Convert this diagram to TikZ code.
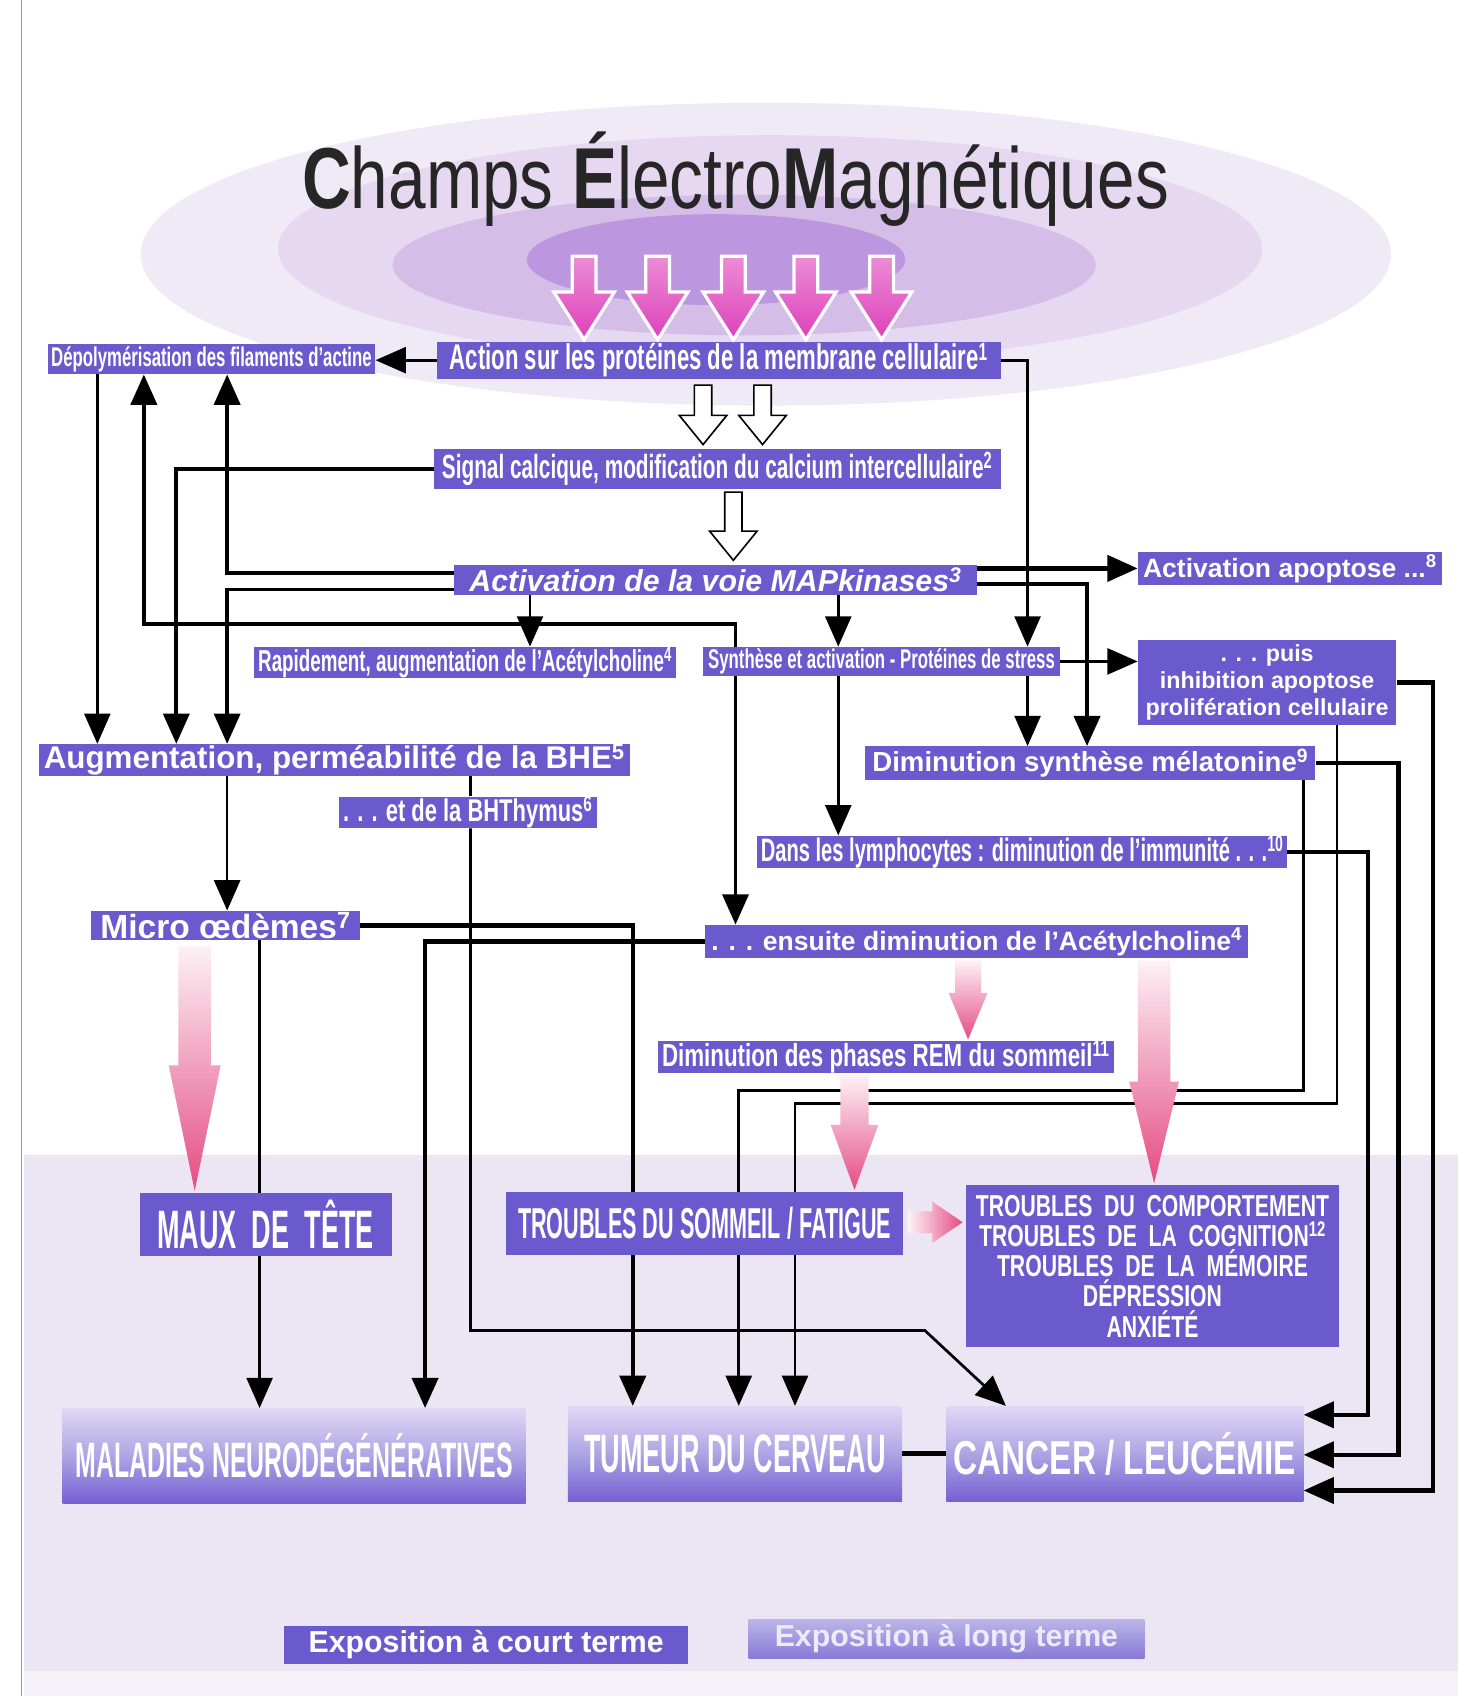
\documentclass[tikz,border=0pt]{standalone}
\usepackage{fontspec}
\setmainfont{Liberation Sans}
\newfontfamily\nar[FakeStretch=0.62]{Liberation Sans}
\newfontfamily\mnar[FakeStretch=0.7]{Liberation Sans}
\newfontfamily\nnar[FakeStretch=0.5]{Liberation Sans}
\newfontfamily\ttlfont[FakeStretch=0.78]{Liberation Sans}
\usetikzlibrary{arrows.meta,calc}
\pgfdeclarelayer{back}
\pgfdeclarelayer{links}
\pgfsetlayers{back,links,main}

\definecolor{boxblue}{RGB}{106,90,205}
\definecolor{bandlav}{RGB}{236,229,244}
\definecolor{ella}{RGB}{240,234,246}
\definecolor{ellb}{RGB}{229,216,240}
\definecolor{ellc}{RGB}{212,190,232}
\definecolor{elld}{RGB}{188,150,222}
\definecolor{magent}{RGB}{222,64,186}
\definecolor{pinkarr}{RGB}{228,76,130}
\definecolor{gradtop}{RGB}{224,216,245}
\definecolor{gradbot}{RGB}{116,96,212}

\newcommand\fsz[2]{\fontsize{#1}{#2}\selectfont}
% pink arrow pointing down: x, top, start of head, tip, half shaft, half head
\newcommand\pinkdn[6]{\shade[top color=pinkarr!8, bottom color=pinkarr]
  (#1-#5,#2) -- (#1+#5,#2) -- (#1+#5,#3) -- (#1+#6,#3) -- (#1,#4) -- (#1-#6,#3) -- (#1-#5,#3) -- cycle;}

\tikzset{
  box/.style={fill=boxblue, text=white, inner sep=0pt},
  gbox/.style={top color=gradtop, bottom color=gradbot, middle color=boxblue!55!white, text=white, inner sep=0pt},
  lbox/.style={top color=boxblue!45!white, bottom color=boxblue!80!white, text=white!88!boxblue, inner sep=0pt},
  arr/.style={line width=2.5pt, -{Triangle[width=24pt,length=28pt]}},
  arrb/.style={line width=2.5pt, {Triangle[width=24pt,length=28pt]}-{Triangle[width=24pt,length=28pt]}},
  ln/.style={line width=2.5pt},
  thk/.style={line width=4.5pt},
  magarr/.style={top color=magent!60!white, bottom color=magent, draw=white, line width=3pt},
  hollowarr/.style={fill=white, draw=black, line width=1.5pt},
}

\begin{document}
\begin{tikzpicture}[x=1pt, y=-1pt]
	\useasboundingbox (0,0) rectangle (1348,1568);
	\begin{pgfonlayer}{back}
		\fill[white] (0,0) rectangle (1348,1568);
		\fill[bandlav] (22,1068) rectangle (1348,1545);
		\fill[bandlav!50] (22,1545) rectangle (1348,1568);
		\fill[ella] (708,235) ellipse [x radius=578, y radius=140];
		\fill[ellb] (712,230) ellipse [x radius=455, y radius=105];
		\fill[ellc] (688,245) ellipse [x radius=325, y radius=65];
		\fill[elld] (662,240) ellipse [x radius=175, y radius=42];
		\draw[gray!80, line width=1pt] (20,0) -- (20,1568);
	\end{pgfonlayer}

	% columns and rows for the links
	\foreach \c in {90,133,163,210,240,393,435,490,585,680,683,735,775,855,930,950,1005,1205,1236,1265,1293,1325}
		\coordinate (c\c) at (\c,0);
	\foreach \r in {530,540,545,577,1008,1020,1230,1308,1345,1378}
		\coordinate (r\r) at (0,\r);

	\node[font=\ttlfont\fsz{80}{80}, text=black!85, anchor=base] (title) at (680,193)
		{{\bfseries C}hamps {\bfseries É}lectro{\bfseries M}agnétiques};

	\node[box, minimum width=303, minimum height=28, font=\nar\bfseries\fsz{25}{25}] (depoly) at (195.5,332) {Dépolymérisation des filaments d’actine};
	\node[box, minimum width=521, minimum height=34, font=\nar\bfseries\fsz{33}{33}] (action) at (664.5,333) {Action sur les protéines de la membrane cellulaire\textsuperscript{1}};
	\node[box, minimum width=524, minimum height=37, font=\nar\bfseries\fsz{31}{31}] (signal) at (663,433.5) {Signal calcique, modification du calcium intercellulaire\textsuperscript{2}};
	\node[box, minimum width=483, minimum height=28, font=\bfseries\itshape\fsz{28}{28}] (mapk) at (661.5,536) {Activation de la voie MAPkinases\textsuperscript{3}};
	\node[box, minimum width=281, minimum height=31, font=\bfseries\fsz{24.5}{24.5}] (apopt) at (1192.5,525.5) {Activation apoptose ...\textsuperscript{8}};
	\node[box, minimum width=390, minimum height=29, font=\nar\bfseries\fsz{28}{28}] (rapid) at (430,612.5) {Rapidement, augmentation de l’Acétylcholine\textsuperscript{4}};
	\node[box, minimum width=330, minimum height=27, font=\nar\bfseries\fsz{25}{25}] (synth) at (815,611.5) {Synthèse et activation - Protéines de stress};
	\node[box, minimum width=239, minimum height=78, align=center, font=\bfseries\fsz{21.5}{25}] (puis) at (1171.5,631) {. . . puis\\inhibition apoptose\\prolifération cellulaire};
	\node[box, minimum width=546, minimum height=29, font=\bfseries\fsz{29}{29}] (bhe) at (309,702.5) {Augmentation, perméabilité de la BHE\textsuperscript{5}};
	\node[box, minimum width=239, minimum height=28, font=\mnar\bfseries\fsz{29}{29}] (bht) at (432.5,751) {. . . et de la BHThymus\textsuperscript{6}};
	\node[box, minimum width=416, minimum height=31, font=\bfseries\fsz{25.5}{25.5}] (melat) at (1008,705.5) {Diminution synthèse mélatonine\textsuperscript{9}};
	\node[box, minimum width=490, minimum height=27, font=\nar\bfseries\fsz{30}{30}] (lymph) at (945,787.5) {Dans les lymphocytes : diminution de l’immunité . . .\textsuperscript{10}};
	\node[box, minimum width=249, minimum height=27, font=\bfseries\fsz{31}{31}] (micro) at (208.5,855.5) {Micro œdèmes\textsuperscript{7}};
	\node[box, minimum width=502, minimum height=31, font=\bfseries\fsz{24.5}{24.5}] (ensuite) at (903,870.5) {. . . ensuite diminution de l’Acétylcholine\textsuperscript{4}};
	\node[box, minimum width=422, minimum height=29, font=\mnar\bfseries\fsz{29.5}{29.5}] (rem) at (819,977.5) {Diminution des phases REM du sommeil\textsuperscript{11}};
	\node[box, minimum width=233, minimum height=58, font=\nnar\bfseries\fsz{50}{50}] (maux) at (245.5,1132) {MAUX~~DE~~TÊTE};
	\node[box, minimum width=367, minimum height=58, font=\nnar\bfseries\fsz{40}{40}] (sommeil) at (651.5,1131) {TROUBLES DU SOMMEIL / FATIGUE};
	\node[box, minimum width=345, minimum height=149, align=center, font=\mnar\bfseries\fsz{28}{28}] (troub) at (1065.5,1170.5)
		{TROUBLES~~DU~~COMPORTEMENT\\TROUBLES~~DE~~LA~~COGNITION\textsuperscript{12}\\TROUBLES~~DE~~LA~~MÉMOIRE\\DÉPRESSION\\ANXIÉTÉ};
	\node[gbox, minimum width=428, minimum height=88, font=\nnar\bfseries\fsz{46}{46}] (malad) at (272,1346) {MALADIES NEURODÉGÉNÉRATIVES};
	\node[gbox, minimum width=309, minimum height=88, font=\nnar\bfseries\fsz{50}{50}] (tumeur) at (679.5,1344) {TUMEUR DU CERVEAU};
	\node[gbox, minimum width=330, minimum height=88, font=\mnar\bfseries\fsz{44}{44}] (cancer) at (1040,1344) {CANCER / LEUCÉMIE};
	\node[box, minimum width=373, minimum height=35, font=\bfseries\fsz{28}{28}] (court) at (449.5,1520.5) {Exposition à court terme};
	\node[lbox, minimum width=366, minimum height=36, font=\bfseries\fsz{28}{28}] (long) at (875,1515) {Exposition à long terme};

	% field arrows
	\foreach \x in {540,608,678,745,815}
		\draw[magarr] (\x-11,237) -- (\x+11,237) -- (\x+11,270) -- (\x+28,270) -- (\x,314) -- (\x-28,270) -- (\x-11,270) -- cycle;
	\foreach \x/\a/\b in {650/356/411,705/356/411,678/455/518}
		\draw[hollowarr] (\x-8,\a) -- (\x+8,\a) -- (\x+8,\b-27) -- (\x+22,\b-27) -- (\x,\b) -- (\x-22,\b-27) -- (\x-8,\b-27) -- cycle;

	% pink arrows
	\pinkdn{180}{875}{985}{1101}{15}{24}
	\pinkdn{895}{888}{918}{961}{12}{18}
	\pinkdn{1067}{888}{1000}{1094}{15}{23}
	\pinkdn{790}{994}{1040}{1100}{13}{22}
	\shade[left color=pinkarr!8, right color=pinkarr] (840,1120) -- (862,1120) -- (862,1111) -- (890,1130) -- (862,1149) -- (862,1140) -- (840,1140) -- cycle;

	\begin{pgfonlayer}{links}
		\draw[arr] (action.west) -- (action.west -| depoly.east);
		\draw[arr] (action.east) -| (c950 |- synth.north);
		\draw[arr] (c950 |- synth.south) -- (c950 |- melat.north);
		\draw[arr, line width=4pt] (mapk.east |- apopt.west) -- (apopt.west);
		\draw[arr, line width=4pt] (mapk.east |- r540) -| (c1005 |- melat.north);
		\draw[arr] (synth.east) -- (synth.east -| puis.west);
		\draw[arr, line width=3.5pt] (signal.west) -| (c163 |- bhe.north);
		\draw[arr] (c90 |- depoly.south) -- (c90 |- bhe.north);
		\draw[arrb, line width=3.5pt] (c133 |- depoly.south) -- (c133 |- r577) -- (c680 |- r577) -- (c680 |- ensuite.north);
		\draw[arr, line width=3.5pt] (mapk.west |- r530) -| (c210 |- depoly.south);
		\draw[arr, line width=3.5pt] (mapk.west |- r545) -| (c210 |- bhe.north);
		\draw[arr] (c490 |- mapk.south) -- (c490 |- rapid.north);
		\draw[arr] (c775 |- mapk.south) -- (c775 |- synth.north);
		\draw[arr] (c775 |- synth.south) -- (c775 |- lymph.north);
		\draw[arr] (c210 |- bhe.south) -- (c210 |- micro.north);
		\draw[ln] (c435 |- bhe.south) -- (c435 |- bht.north);
		\draw[arr] (c435 |- bht.south) -- (c435 |- r1230) -- (c855 |- r1230) -- (c930 |- cancer.north);
		\draw[arr, line width=4pt] (micro.east) -| (c585 |- tumeur.north);
		\draw[ln] (c240 |- micro.south) -- (c240 |- maux.north);
		\draw[arr] (c240 |- maux.south) -- (c240 |- malad.north);
		\draw[arr, line width=4pt] (ensuite.west) -| (c393 |- malad.north);
		\draw[arr, line width=4pt] (melat.east) -| (c1293 |- r1345) -- (cancer.east |- r1345);
		\draw[arr] (c1205 |- melat.south) |- (c683 |- r1008) -- (c683 |- tumeur.north);
		\draw[arr, line width=4pt] (lymph.east) -| (c1265 |- r1308) -- (cancer.east |- r1308);
		\draw[arr, line width=4pt] (puis.east) -| (c1325 |- r1378) -- (cancer.east |- r1378);
		\draw[arr] (c1236 |- puis.south) |- (c735 |- r1020) -- (c735 |- tumeur.north);
		\draw[thk] (tumeur.east) -- (cancer.west);
	\end{pgfonlayer}
\end{tikzpicture}
\end{document}
